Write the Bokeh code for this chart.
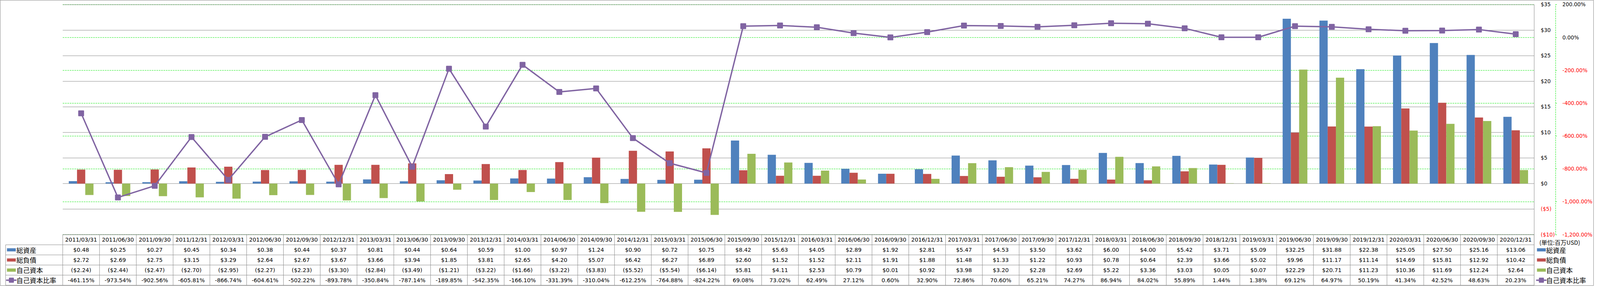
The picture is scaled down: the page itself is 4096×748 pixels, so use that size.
from bokeh.plotting import figure
from bokeh.models import Range1d, LinearAxis, FixedTicker, CustomJSTickFormatter
from bokeh.core.properties import value
from bokeh.embed import file_html
from bokeh.resources import INLINE

# ---------------- data ----------------
dates = ["2011/03/31", "2011/06/30", "2011/09/30", "2011/12/31",
         "2012/03/31", "2012/06/30", "2012/09/30", "2012/12/31",
         "2013/03/31", "2013/06/30", "2013/09/30", "2013/12/31",
         "2014/03/31", "2014/06/30", "2014/09/30", "2014/12/31",
         "2015/03/31", "2015/06/30", "2015/09/30", "2015/12/31",
         "2016/03/31", "2016/06/30", "2016/09/30", "2016/12/31",
         "2017/03/31", "2017/06/30", "2017/09/30", "2017/12/31",
         "2018/03/31", "2018/06/30", "2018/09/30", "2018/12/31",
         "2019/03/31", "2019/06/30", "2019/09/30", "2019/12/31",
         "2020/03/31", "2020/06/30", "2020/09/30", "2020/12/31"]
total_assets = [0.48, 0.25, 0.27, 0.45, 0.34, 0.38, 0.44, 0.37, 0.81, 0.44,
                0.64, 0.59, 1.00, 0.97, 1.24, 0.90, 0.72, 0.75, 8.42, 5.63,
                4.05, 2.89, 1.92, 2.81, 5.47, 4.53, 3.50, 3.62, 6.00, 4.00,
                5.42, 3.71, 5.09, 32.25, 31.88, 22.38, 25.05, 27.50, 25.16, 13.06]
total_liabilities = [2.72, 2.69, 2.75, 3.15, 3.29, 2.64, 2.67, 3.67, 3.66, 3.94,
                     1.85, 3.81, 2.65, 4.20, 5.07, 6.42, 6.27, 6.89, 2.60, 1.52,
                     1.52, 2.11, 1.91, 1.88, 1.48, 1.33, 1.22, 0.93, 0.78, 0.64,
                     2.39, 3.66, 5.02, 9.96, 11.17, 11.14, 14.69, 15.81, 12.92, 10.42]
equity = [-2.24, -2.44, -2.47, -2.70, -2.95, -2.27, -2.23, -3.30, -2.84, -3.49,
          -1.21, -3.22, -1.66, -3.22, -3.83, -5.52, -5.54, -6.14, 5.81, 4.11,
          2.53, 0.79, 0.01, 0.92, 3.98, 3.20, 2.28, 2.69, 5.22, 3.36,
          3.03, 0.05, 0.07, 22.29, 20.71, 11.23, 10.36, 11.69, 12.24, 2.64]
equity_ratio = [-461.15, -973.54, -902.56, -605.81, -866.74, -604.61, -502.22, -893.78,
                -350.84, -787.14, -189.85, -542.35, -166.10, -331.39, -310.04, -612.25,
                -764.88, -824.22, 69.08, 73.02, 62.49, 27.12, 0.60, 32.90,
                72.86, 70.60, 65.21, 74.27, 86.94, 84.02, 55.89, 1.44,
                1.38, 69.12, 64.97, 50.19, 41.34, 42.52, 48.63, 20.23]
series_names = ["総資産", "総負債", "自己資本", "自己資本比率"]
usd_ticks = [-10, -5, 0, 5, 10, 15, 20, 25, 30, 35]
pct_ticks = [-1200, -1000, -800, -600, -400, -200, 0, 200]
unit_label = "(単位:百万USD)"

# ---------------- styles / layout ----------------
C_BLUE, C_RED, C_GREEN, C_PURPLE = "#4F81BD", "#C0504D", "#9BBB59", "#8064A2"
C_GRID, C_GREEN_GRID = "#888888", "#0AE80A"
GREEN_DASH = "4 2"
NUM_FONT_NAME = "DejaVu Sans"
NUM_FONT = value(NUM_FONT_NAME)
CJK_FONT = value("Noto Sans CJK JP")

W, H = 4080, 732
REF_W, REF_H = 4701, 858
SX, SY = W / REF_W, H / REF_H
COL0, COLW = 184.5, 108.5           # reference px
PLOT_TOP, PLOT_BOT = 13.4, 704.0    # reference px
TBL_BOT, ROW_H = 856.0, 30.4        # reference px


def cx(rx):
    return (rx - COL0) / COLW


ncol = len(dates)
usd_lo, usd_hi = min(usd_ticks), max(usd_ticks)
pct_lo, pct_hi = min(pct_ticks), max(pct_ticks)
u_per = (usd_hi - usd_lo) / (PLOT_BOT - PLOT_TOP)
p_per = (pct_hi - pct_lo) / (PLOT_BOT - PLOT_TOP)

p = figure(width=W, height=H, output_backend="svg", toolbar_location=None,
           x_range=Range1d(cx(0), cx(REF_W)),
           y_range=Range1d(usd_lo - (REF_H - PLOT_BOT) * u_per, usd_hi + PLOT_TOP * u_per),
           x_axis_location=None, y_axis_location=None, min_border=0, title=None)
p.extra_y_ranges = {
    "pct": Range1d(pct_lo - (REF_H - PLOT_BOT) * p_per, pct_hi + PLOT_TOP * p_per),
    "tbl": Range1d(-(REF_H - TBL_BOT) / ROW_H, TBL_BOT / ROW_H),
}
p.xgrid.visible = False
p.ygrid.visible = False
p.outline_line_color = C_GRID
p.background_fill_color = "white"
p.border_fill_color = "white"

# gridlines
p.segment(x0=[0] * len(pct_ticks), x1=[ncol] * len(pct_ticks), y0=pct_ticks, y1=pct_ticks,
          y_range_name="pct", line_color=C_GREEN_GRID, line_width=1, line_dash=GREEN_DASH)
p.segment(x0=[0] * len(usd_ticks), x1=[ncol] * len(usd_ticks), y0=usd_ticks, y1=usd_ticks,
          line_color=C_GRID, line_width=1)

# bars
xs = [i + 0.5 for i in range(ncol)]
bw = 0.224
for off, vals, col in ((-bw, total_assets, C_BLUE), (0.0, total_liabilities, C_RED),
                       (bw, equity, C_GREEN)):
    p.vbar(x=[x + off for x in xs], top=vals, bottom=0, width=bw,
           fill_color=col, line_color=None)

# ratio line
p.line(xs, equity_ratio, y_range_name="pct", line_color=C_PURPLE, line_width=3.5)
p.scatter(xs, equity_ratio, y_range_name="pct", marker="square", size=12,
          fill_color=C_PURPLE, line_color=C_PURPLE, line_width=3, line_join="round")

# axes (right side)
usd_fmt = CustomJSTickFormatter(code="return tick < 0 ? '($' + (-tick) + ')' : '$' + tick;")
pct_fmt = CustomJSTickFormatter(
    code="return tick.toLocaleString('en-US', {minimumFractionDigits: 2, maximumFractionDigits: 2}) + '%';")
tbl_bottom_usd = usd_lo - (TBL_BOT - PLOT_BOT) * u_per


def mk_axis(range_name, ticks, fmt, color, loc, standoff, line=None, bounds=None,
            tick_color=None, tick_out=0):
    kw = {}
    if bounds is not None:
        kw["bounds"] = bounds
    ax = LinearAxis(y_range_name=range_name, ticker=FixedTicker(ticks=ticks), formatter=fmt,
                    fixed_location=loc, major_label_standoff=int(round(standoff)),
                    major_label_text_font=NUM_FONT_NAME, major_label_text_font_size="13.3px",
                    major_label_text_color=color, minor_tick_line_color=None,
                    major_tick_in=0, major_tick_out=int(round(tick_out)),
                    major_tick_line_color=tick_color, axis_line_color=None, **kw)
    if line is not None:
        ax.axis_line_color = line[0]
        ax.axis_line_dash = line[1]
    return ax


prim_loc = cx(4524.5)
sec_loc = cx(4588.5)
prim_std = (4544 - 4524.5) * SX
tick_out = 3 * SX
sec_std = (4607.7 - 4588.5) * SX - round(tick_out)

p.add_layout(mk_axis("default", [t for t in usd_ticks if t >= 0], usd_fmt, "black", prim_loc,
                     prim_std, line=(C_GRID, "solid"), bounds=(tbl_bottom_usd, usd_hi)), "right")
p.add_layout(mk_axis("default", [t for t in usd_ticks if t < 0], usd_fmt, "red", prim_loc,
                     prim_std), "right")
p.add_layout(mk_axis("pct", [t for t in pct_ticks if t >= 0], pct_fmt, "black", sec_loc,
                     sec_std, line=(C_GREEN_GRID, GREEN_DASH), bounds=(pct_lo, pct_hi),
                     tick_color=C_GREEN_GRID, tick_out=tick_out), "right")
p.add_layout(mk_axis("pct", [t for t in pct_ticks if t < 0], pct_fmt, "red", sec_loc,
                     sec_std, tick_color=C_GREEN_GRID, tick_out=tick_out), "right")

# ---------------- data table ----------------
leg_left = cx(16)
nrow = len(series_names) + 1
hx0 = [0.0] + [leg_left] * nrow
hx1 = [float(ncol)] * (nrow + 1)
hy = [float(nrow)] + [float(r) for r in range(nrow - 1, -1, -1)]
p.segment(x0=hx0, x1=hx1, y0=hy, y1=hy, y_range_name="tbl", line_color=C_GRID, line_width=1)
vx = [leg_left] + [float(i) for i in range(ncol + 1)]
vy1 = [float(nrow - 1)] + [float(nrow)] * (ncol + 1)
p.segment(x0=vx, x1=vx, y0=[0.0] * len(vx), y1=vy1, y_range_name="tbl",
          line_color=C_GRID, line_width=1)


def fmt_usd(v):
    return f"${v:.2f}" if v >= 0 else f"(${-v:.2f})"


rows = [dates,
        [fmt_usd(v) for v in total_assets],
        [fmt_usd(v) for v in total_liabilities],
        [fmt_usd(v) for v in equity],
        [f"{v:,.2f}%" for v in equity_ratio]]
for k, texts in enumerate(rows):
    p.text(x=xs, y=[nrow - k - 0.5] * ncol, text=texts, y_range_name="tbl",
           text_font=NUM_FONT, text_font_size="14.2px", text_color="black",
           text_align="center", text_baseline="middle")

# legend keys (table left and right legend)
key_w, key_h = 26 / COLW, 9.5 / ROW_H
bar_cols = [C_BLUE, C_RED, C_GREEN]
leg_rows = [nrow - 1.5 - k for k in range(len(series_names))]
for key_cx, text_x in ((cx(33), cx(47.7)), (cx(4546), cx(4560))):
    p.rect(x=[key_cx] * 3, y=leg_rows[:3], width=key_w, height=key_h, y_range_name="tbl",
           fill_color=bar_cols, line_color=None)
    p.segment(x0=[key_cx - 15.5 / COLW], x1=[key_cx + 15.5 / COLW], y0=[leg_rows[3]],
              y1=[leg_rows[3]], y_range_name="tbl", line_color=C_PURPLE, line_width=3.5)
    p.scatter(x=[key_cx], y=[leg_rows[3]], y_range_name="tbl", marker="square", size=10,
              fill_color=C_PURPLE, line_color=C_PURPLE, line_width=3, line_join="round")
    p.text(x=[text_x] * len(series_names), y=leg_rows, text=series_names, y_range_name="tbl",
           text_font=CJK_FONT, text_font_size="17px", text_color="black",
           text_align="left", text_baseline="middle")

p.text(x=[cx(4540)], y=[(TBL_BOT - 726.7) / ROW_H], text=[unit_label], y_range_name="tbl",
       text_font=CJK_FONT, text_font_size="15px", text_color="black",
       text_align="left", text_baseline="middle")

open("out.html", "w").write(file_html(p, INLINE))
